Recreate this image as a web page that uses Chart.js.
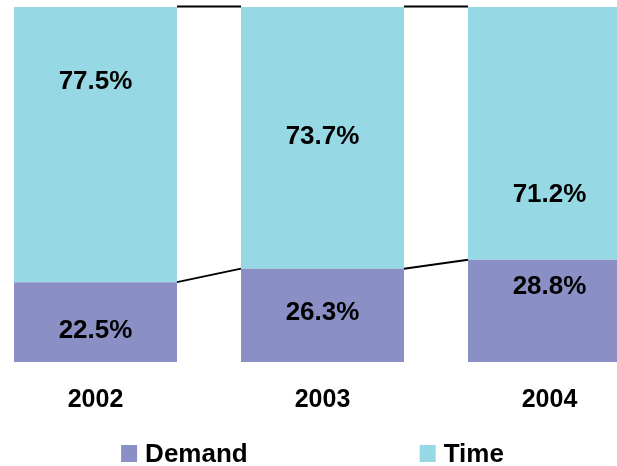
<!DOCTYPE html>
<html>
<head>
<meta charset="utf-8">
<script src="https://cdn.jsdelivr.net/npm/chart.js@4.4.1/dist/chart.umd.min.js"></script>
<style>
  html, body { margin: 0; padding: 0; background: #fff; overflow: hidden; }
  .wrap { position: absolute; left: -18px; top: 0; width: 681px; height: 466px; }
</style>
</head>
<body>
<div class="wrap"><canvas id="myChart"></canvas></div>
<script>
// Categories
const years = ["2002", "2003", "2004"];

// Series values (share in %)
const demand = [22.5, 26.3, 28.8];
const time = [77.5, 73.7, 71.2];

// Where the value labels sit inside each bar (in % of the bar)
const demandLabelAt = [8.7, 13.8, 21.1];
const timeLabelAt = [78.9, 63.4, 47.0];

const demandColor = "#8a90c6";
const timeColor = "#96d8e3";
const labelFont = "bold 26px 'Liberation Sans', Arial, sans-serif";

// Excel style series lines between the bars
const seriesLines = {
  id: "seriesLines",
  afterDatasetsDraw(chart) {
    const ctx = chart.ctx;
    const y = chart.scales.y;
    const bars = chart.getDatasetMeta(0).data;
    ctx.save();
    ctx.strokeStyle = "#000";
    ctx.lineWidth = 2;
    for (let i = 0; i < bars.length - 1; i++) {
      const x1 = bars[i].x + bars[i].width / 2;
      const x2 = bars[i + 1].x - bars[i + 1].width / 2;
      ctx.beginPath();
      ctx.moveTo(x1, y.getPixelForValue(demand[i]));
      ctx.lineTo(x2, y.getPixelForValue(demand[i + 1]));
      ctx.moveTo(x1, y.getPixelForValue(demand[i] + time[i]) - 0.5);
      ctx.lineTo(x2, y.getPixelForValue(demand[i + 1] + time[i + 1]) - 0.5);
      ctx.stroke();
    }
    ctx.restore();
  }
};

// Value labels
const valueLabels = {
  id: "valueLabels",
  afterDatasetsDraw(chart) {
    const ctx = chart.ctx;
    const y = chart.scales.y;
    const bars = chart.getDatasetMeta(0).data;
    ctx.save();
    ctx.font = labelFont;
    ctx.fillStyle = "#000";
    ctx.textAlign = "center";
    ctx.textBaseline = "middle";
    bars.forEach((bar, i) => {
      ctx.fillText(demand[i].toFixed(1) + "%", bar.x, y.getPixelForValue(demandLabelAt[i]));
      ctx.fillText(time[i].toFixed(1) + "%", bar.x, y.getPixelForValue(timeLabelAt[i]));
    });
    ctx.restore();
  }
};

// Legend with wide gap, like the original
const wideLegend = {
  id: "wideLegend",
  afterDraw(chart) {
    const ctx = chart.ctx;
    const sets = chart.data.datasets;
    const box = 16, gap = 8, spacing = 172;
    ctx.save();
    ctx.font = "bold 26px 'Liberation Sans', Arial, sans-serif";
    let total = 0;
    sets.forEach((ds, i) => {
      total += box + gap + ctx.measureText(ds.label).width;
      if (i > 0) total += spacing;
    });
    let x = chart.width / 2 - 10 - total / 2;
    const baseY = 462;
    ctx.textBaseline = "alphabetic";
    ctx.textAlign = "left";
    sets.forEach((ds) => {
      ctx.fillStyle = ds.backgroundColor;
      ctx.fillRect(x, baseY - 17, box, 17);
      ctx.fillStyle = "#000";
      ctx.fillText(ds.label, x + box + gap, baseY);
      x += box + gap + ctx.measureText(ds.label).width + spacing;
    });
    ctx.restore();
  }
};

const ctx = document.getElementById("myChart").getContext("2d");
const myChart = new Chart(ctx, {
  type: "bar",
  data: {
    labels: years,
    datasets: [
      { label: "Demand", data: demand, backgroundColor: demandColor, borderWidth: 0 },
      { label: "Time", data: time, backgroundColor: timeColor, borderWidth: 0 }
    ]
  },
  options: {
    responsive: true,
    maintainAspectRatio: false,
    animation: false,
    layout: { padding: { top: 7, bottom: 28, left: 0, right: 0 } },
    datasets: { bar: { categoryPercentage: 1, barPercentage: 0.718 } },
    plugins: {
      legend: { display: false },
      tooltip: { enabled: false }
    },
    scales: {
      x: {
        stacked: true,
        offset: true,
        grid: { display: false, drawTicks: false },
        border: { display: false },
        ticks: {
          color: "#000",
          padding: 23,
          font: { family: "'Liberation Sans', Arial, sans-serif", size: 25, weight: "bold" }
        }
      },
      y: {
        stacked: true,
        display: false,
        min: 0,
        max: 100
      }
    }
  },
  plugins: [seriesLines, valueLabels, wideLegend]
});
</script>
</body>
</html>
